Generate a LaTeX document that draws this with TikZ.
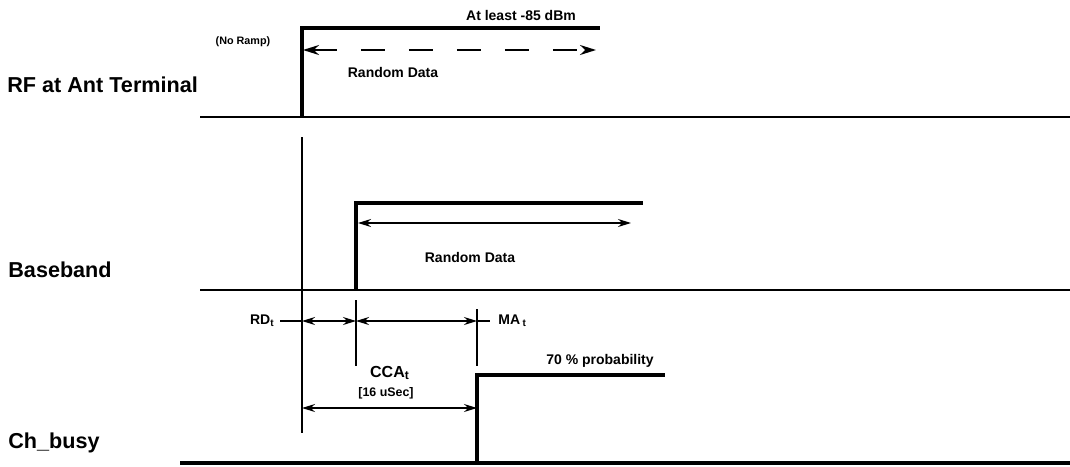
\documentclass[tikz,border=0pt]{standalone}
\usepackage{fontspec}
\setmainfont{Liberation Sans}
\usetikzlibrary{arrows.meta,positioning}
\begin{document}
\begin{tikzpicture}[x=0.5pt, y=-0.5pt,
		signal/.style={line width=2.2pt},
		base/.style={line width=1pt},
		dim/.style={line width=0.7pt},
		dimarrow/.style={dim, {Stealth[length=6.5pt,width=4pt]}-{Stealth[length=6.5pt,width=4pt]}},
		lbl/.style={font=\fontsize{10.8}{12}\selectfont\bfseries, anchor=west, inner sep=0pt},
		note/.style={font=\fontsize{7}{8}\selectfont\bfseries, inner sep=0pt}]
		\useasboundingbox (0,0) rectangle (1070,466);
		% RF at antenna
		\coordinate (R0) at (200,117);
		\coordinate (R1) at (1070,117);
		\coordinate (Rup) at (302,117);
		\coordinate (Rtop) at (302,28);
		\coordinate (Rend) at (600,28);
		\coordinate (Ra) at (303,50);
		\coordinate (Rb) at (596,50);
		\draw[base] (R0)--(R1);
		\draw[signal] (Rup)--(Rtop)--(Rend);
		\draw[dim, line width=1pt, dash pattern=on 12pt off 12pt, {Stealth[length=8pt,width=5pt]}-{Stealth[length=8pt,width=5pt]}] (Ra)--(Rb);
		\node[lbl] (rf) at (7,85) {RF at Ant Terminal};
		\node[note, font=\fontsize{5.4}{7}\selectfont\bfseries] (noramp) at (243,42) {(No Ramp)};
		\node[note] (level) at (521,15) {At least -85 dBm};
		\node[note] (rfdata) at (393,72) {Random Data};
		% baseband
		\coordinate (B0) at (200,290);
		\coordinate (B1) at (1070,290);
		\coordinate (Bup) at (356,290);
		\coordinate (Btop) at (356,203);
		\coordinate (Bend) at (643,203);
		\coordinate (Ba) at (358,223);
		\coordinate (Bb) at (631,223);
		\draw[base] (B0)--(B1);
		\draw[signal] (Bup)--(Btop)--(Bend);
		\draw[dimarrow] (Ba)--(Bb);
		\node[lbl] (bb) at (8,270) {Baseband};
		\node[note] (bbdata) at (470,257) {Random Data};
		% timing marks
		\coordinate (T0a) at (302,137);
		\coordinate (T0b) at (302,433);
		\coordinate (T1a) at (356,300);
		\coordinate (T1b) at (356,366);
		\coordinate (T2a) at (477,309);
		\coordinate (T2b) at (477,366);
		\draw[dim] (T0a)--(T0b);
		\draw[dim] (T1a)--(T1b);
		\draw[dim] (T2a)--(T2b);
		\coordinate (D0) at (302,321);
		\coordinate (D1) at (356,321);
		\coordinate (D2) at (477,321);
		\coordinate (Lrd) at (280,321);
		\coordinate (Lma) at (490,321);
		\draw[dim] (Lrd)--(D0);
		\draw[dimarrow] (D0)--(D1);
		\draw[dimarrow] (D1)--(D2);
		\draw[dim] (D2)--(Lma);
		\node[note, anchor=east] (rd) at (275,321) {RD\textsubscript{t}};
		\node[note, anchor=west] (ma) at (498,321) {MA\,\textsubscript{t}};
		\node[note, font=\fontsize{8}{9}\selectfont\bfseries] (cca) at (390,373) {CCA\textsubscript{t}};
		\node[note, font=\fontsize{6.2}{7}\selectfont\bfseries] (usec) at (386,393) {[16 uSec]};
		\coordinate (E0) at (302,408);
		\coordinate (E1) at (477,408);
		\draw[dimarrow] (E0)--(E1);
		% channel busy
		\coordinate (C0) at (180,463);
		\coordinate (C1) at (1070,463);
		\coordinate (Cup) at (477,463);
		\coordinate (Ctop) at (477,375);
		\coordinate (Cend) at (665,375);
		\draw[signal] (C0)--(C1);
		\draw[signal] (Cup)--(Ctop)--(Cend);
		\node[lbl] (busy) at (8,443) {Ch\_busy};
		\node[note] (prob) at (600,361) {70 \% probability};
\end{tikzpicture}
\end{document}
